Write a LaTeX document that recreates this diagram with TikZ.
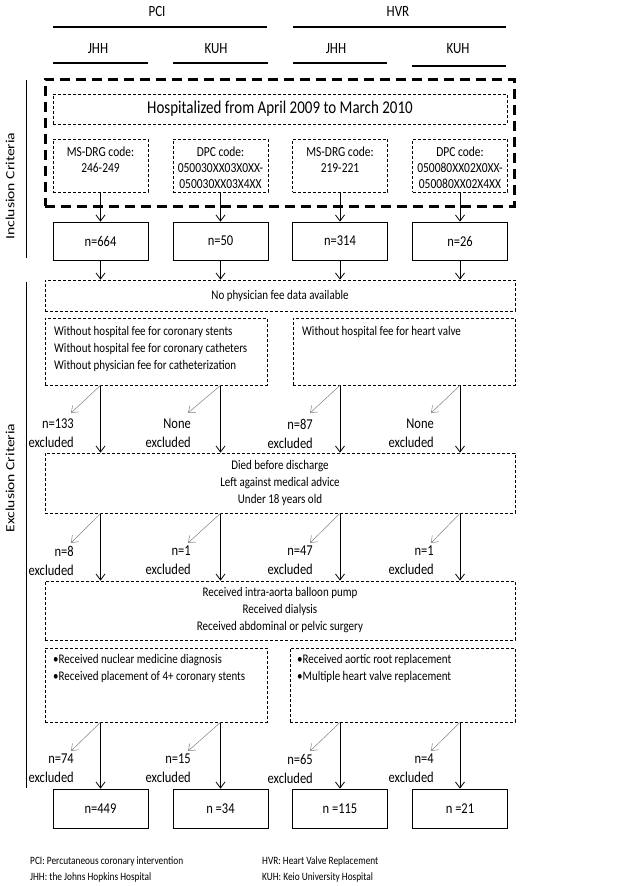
\documentclass[tikz,border=0pt]{standalone}
\usepackage{fontspec}
\setmainfont{Carlito}[FakeStretch=0.833]
\newfontfamily\sidefont{Carlito}[FakeStretch=1.25]
\usetikzlibrary{arrows.meta}
\begin{document}
\begin{tikzpicture}[x=1pt,y=-1pt,
  dbox/.style={draw, line width=0.7pt, dash pattern=on 3pt off 2pt, inner sep=0pt},
  bigbox/.style={draw, line width=3pt, dash pattern=on 10pt off 6pt},
  sbox/.style={draw, line width=0.8pt, inner sep=0pt, font=\fontsize{15}{15}\selectfont},
  arr/.style={line width=0.8pt, -{Straight Barb[length=6pt,width=9pt]}},
  darr/.style={line width=0.5pt, draw=gray, -{Straight Barb[length=6pt,width=9pt]}},
  body/.style={font=\fontsize{13.2}{17}\selectfont, inner sep=0pt},
  code/.style={font=\fontsize{13.8}{16}\selectfont, inner sep=0pt, align=center, anchor=north},
  lab/.style={font=\fontsize{15}{19}\selectfont, align=right, anchor=north east, inner sep=0pt},
  hdr/.style={font=\fontsize{15.6}{15}\selectfont, inner sep=0pt},
  hline/.style={line width=2.8pt},
  sideline/.style={line width=0.8pt},
  foot/.style={font=\fontsize{11.2}{11}\selectfont, anchor=west, inner sep=0pt},
  side/.style={font=\sidefont\fontsize{12.5}{15}\selectfont, rotate=90, inner sep=0pt}
]
\useasboundingbox (0,0) rectangle (640,886);

% headers
\node[hdr] (pci) at (157,11) {PCI};
\node[hdr] (hvr) at (398,11) {HVR};
\draw[hline] (53,27) -- (267,27);
\draw[hline] (293,27) -- (506,27);
\node[hdr] (h1) at (98,49) {JHH};
\node[hdr] (h2) at (216,49) {KUH};
\node[hdr] (h3) at (336,49) {JHH};
\node[hdr] (h4) at (458,49) {KUH};
\draw[hline] (53,63) -- (148,63);
\draw[hline] (173,63) -- (268,63);
\draw[hline] (293,63) -- (387,63);
\draw[hline] (412,66) -- (506,66);

% side labels
\draw[sideline] (26,80) -- (26,258);
\draw[sideline] (26,282) -- (26,788);
\node[side] (inc) at (10,186) {Inclusion Criteria};
\node[side] (exc) at (10,478) {Exclusion Criteria};

% inclusion
\node[bigbox, minimum width=469pt, minimum height=127pt, inner sep=0pt] (big) at (279.5,142.5) {};
\node[dbox, minimum width=454pt, minimum height=30pt, font=\fontsize{18}{18}\selectfont] (hosp) at (280,109) {Hospitalized from April 2009 to March 2010};
\node[dbox, minimum width=95pt, minimum height=53pt] (c1) at (100.5,165.5) {};
\node[dbox, minimum width=95pt, minimum height=53pt] (c2) at (220.5,165.5) {};
\node[dbox, minimum width=95pt, minimum height=53pt] (c3) at (340,165.5) {};
\node[dbox, minimum width=95pt, minimum height=53pt] (c4) at (460,165.5) {};
\node[code] (t1) at (100.5,146.5) {MS-DRG code:\\246-249};
\node[code] (t2) at (220.5,146.5) {DPC code:\\050030XX03X0XX-\\050030XX03X4XX};
\node[code] (t3) at (340,146.5) {MS-DRG code:\\219-221};
\node[code] (t4) at (460,146.5) {DPC code:\\050080XX02X0XX-\\050080XX02X4XX};

\node[sbox, minimum width=95pt, minimum height=38pt] (n1) at (100.5,241) {n=664};
\node[sbox, minimum width=95pt, minimum height=38pt] (n2) at (220.5,241) {n=50};
\node[sbox, minimum width=95pt, minimum height=38pt] (n3) at (340,241) {n=314};
\node[sbox, minimum width=95pt, minimum height=38pt] (n4) at (460,241) {n=26};

\draw[arr] (c1.south) -- (n1.north);
\draw[arr] (c2.south) -- (n2.north);
\draw[arr] (c3.south) -- (n3.north);
\draw[arr] (c4.south) -- (n4.north);

% exclusion
\node[dbox, body, minimum width=470pt, minimum height=31pt] (np) at (280,295.5) {No physician fee data available};
\draw[arr] (n1.south) -- (n1.south |- np.north);
\draw[arr] (n2.south) -- (n2.south |- np.north);
\draw[arr] (n3.south) -- (n3.south |- np.north);
\draw[arr] (n4.south) -- (n4.south |- np.north);

\node[dbox, minimum width=222pt, minimum height=67pt] (wo1) at (156,351.5) {};
\node[dbox, minimum width=222pt, minimum height=67pt] (wo2) at (404,351.5) {};
\node[body, align=left, anchor=north west] (wt1) at (54,326.5) {Without hospital fee for coronary stents\\Without hospital fee for coronary catheters\\Without physician fee for catheterization};
\node[body, align=left, anchor=north west] (wt2) at (302,326.5) {Without hospital fee for heart valve};

\node[dbox, body, align=center, minimum width=470pt, minimum height=60pt] (died) at (280,483) {Died before discharge\\Left against medical advice\\Under 18 years old};

\node[lab] (a1) at (74,419) {n=133\\excluded};
\node[lab] (a2) at (191,419) {None\\excluded};
\node[lab] (a3) at (313,419) {n=87\\excluded};
\node[lab] (a4) at (434,419) {None\\excluded};
\draw[arr] (n1 |- wo1.south) -- (n1 |- died.north);
\draw[arr] (n2 |- wo1.south) -- (n2 |- died.north);
\draw[arr] (n3 |- wo2.south) -- (n3 |- died.north);
\draw[arr] (n4 |- wo2.south) -- (n4 |- died.north);
\draw[darr] (n1 |- wo1.south) -- ([shift={(-3,-6)}]a1.north east);
\draw[darr] (n2 |- wo1.south) -- ([shift={(-3,-6)}]a2.north east);
\draw[darr] (n3 |- wo2.south) -- ([shift={(-3,-6)}]a3.north east);
\draw[darr] (n4 |- wo2.south) -- ([shift={(-3,-6)}]a4.north east);

\node[dbox, body, align=center, minimum width=470pt, minimum height=59pt] (recv) at (280,610.5) {Received intra-aorta balloon pump\\Received dialysis\\Received abdominal or pelvic surgery};

\node[lab] (b1) at (74,546) {n=8\\excluded};
\node[lab] (b2) at (191,546) {n=1\\excluded};
\node[lab] (b3) at (313,546) {n=47\\excluded};
\node[lab] (b4) at (434,546) {n=1\\excluded};
\draw[arr] (n1 |- died.south) -- (n1 |- recv.north);
\draw[arr] (n2 |- died.south) -- (n2 |- recv.north);
\draw[arr] (n3 |- died.south) -- (n3 |- recv.north);
\draw[arr] (n4 |- died.south) -- (n4 |- recv.north);
\draw[darr] (n1 |- died.south) -- ([shift={(-3,-3)}]b1.north east);
\draw[darr] (n2 |- died.south) -- ([shift={(-3,-3)}]b2.north east);
\draw[darr] (n3 |- died.south) -- ([shift={(-3,-3)}]b3.north east);
\draw[darr] (n4 |- died.south) -- ([shift={(-3,-3)}]b4.north east);

\node[dbox, minimum width=222pt, minimum height=74pt] (bu1) at (156,685) {};
\node[dbox, minimum width=225pt, minimum height=74pt] (bu2) at (402.5,685) {};
\node[body, align=left, anchor=north west] (bt1) at (53,654) {•Received nuclear medicine diagnosis\\•Received placement of 4+ coronary stents};
\node[body, align=left, anchor=north west] (bt2) at (297,654) {•Received aortic root replacement\\•Multiple heart valve replacement};

\node[sbox, minimum width=95pt, minimum height=39pt] (f1) at (100.5,808.5) {n=449};
\node[sbox, minimum width=95pt, minimum height=39pt] (f2) at (220.5,808.5) {n =34};
\node[sbox, minimum width=95pt, minimum height=39pt] (f3) at (340,808.5) {n =115};
\node[sbox, minimum width=95pt, minimum height=39pt] (f4) at (460,808.5) {n =21};

\node[lab] (d1) at (74,754) {n=74\\excluded};
\node[lab] (d2) at (191,754) {n=15\\excluded};
\node[lab] (d3) at (313,754) {n=65\\excluded};
\node[lab] (d4) at (434,754) {n=4\\excluded};
\draw[arr] (n1 |- bu1.south) -- (f1.north);
\draw[arr] (n2 |- bu1.south) -- (f2.north);
\draw[arr] (n3 |- bu2.south) -- (f3.north);
\draw[arr] (n4 |- bu2.south) -- (f4.north);
\draw[darr] (n1 |- bu1.south) -- ([shift={(-3,-3)}]d1.north east);
\draw[darr] (n2 |- bu1.south) -- ([shift={(-3,-3)}]d2.north east);
\draw[darr] (n3 |- bu2.south) -- ([shift={(-3,-3)}]d3.north east);
\draw[darr] (n4 |- bu2.south) -- ([shift={(-3,-3)}]d4.north east);

% footer
\node[foot] (fa) at (30,862) {PCI: Percutaneous coronary intervention};
\node[foot] (fb) at (30,878) {JHH: the Johns Hopkins Hospital};
\node[foot] (fc) at (262,862) {HVR: Heart Valve Replacement};
\node[foot] (fd) at (262,878) {KUH: Keio University Hospital};
\end{tikzpicture}
\end{document}
